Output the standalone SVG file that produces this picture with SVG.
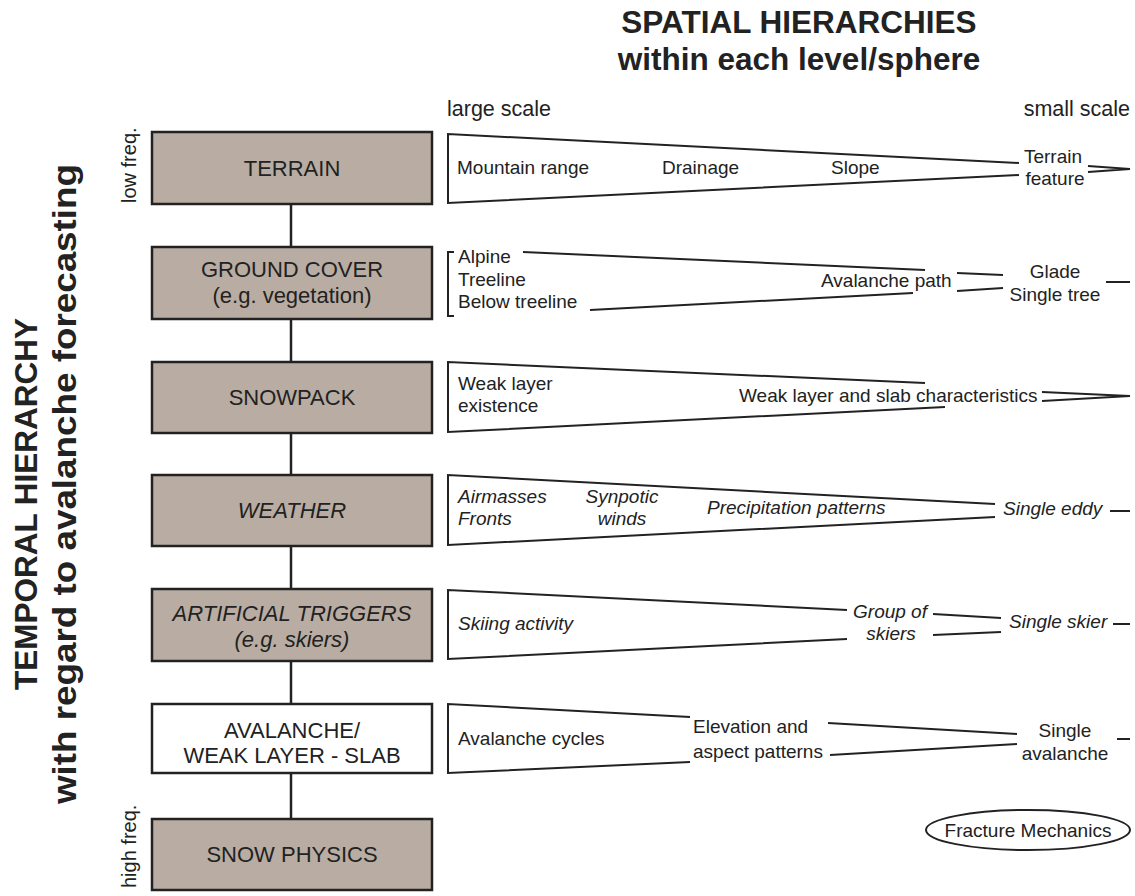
<svg xmlns="http://www.w3.org/2000/svg" width="1135" height="896" viewBox="0 0 1135 896">
<style>
text{font-family:"Liberation Sans",Arial,sans-serif;fill:#222}
.box{fill:#b9ada3;stroke:#222;stroke-width:2.5}
.boxw{fill:#fff;stroke:#222;stroke-width:2.5}
.bt{font-size:22px;text-anchor:middle}
.it{font-style:italic}
.w{fill:none;stroke:#222;stroke-width:2}
.wt{font-size:19px}
.c{text-anchor:middle}
.sc{font-size:21.5px}
.ti{font-size:31.5px;font-weight:bold}
.fq{font-size:20px}
.con{stroke:#222;stroke-width:2.5}
</style>
<rect width="1135" height="896" fill="#fff"/>

<g id="titles">
<text class="ti" x="799" y="33" text-anchor="middle">SPATIAL HIERARCHIES</text>
<text class="ti" x="799" y="70" text-anchor="middle">within each level/sphere</text>
<text class="ti" transform="translate(37,504) rotate(-90)" text-anchor="middle">TEMPORAL HIERARCHY</text>
<text class="ti" transform="translate(76,484) rotate(-90)" text-anchor="middle" style="font-size:33px" textLength="640" lengthAdjust="spacingAndGlyphs">with regard to avalanche forecasting</text>
<text class="fq" transform="translate(136,203) rotate(-90)">low freq.</text>
<text class="fq" transform="translate(136,888) rotate(-90)">high freq.</text>
<text class="sc" x="447" y="116">large scale</text>
<text class="sc" x="1130" y="116" text-anchor="end">small scale</text>
</g>

<g id="connectors">
<line class="con" x1="291" y1="204" x2="291" y2="247"/>
<line class="con" x1="291" y1="319" x2="291" y2="362"/>
<line class="con" x1="291" y1="433" x2="291" y2="475"/>
<line class="con" x1="291" y1="546" x2="291" y2="589"/>
<line class="con" x1="291" y1="661" x2="291" y2="704"/>
<line class="con" x1="291" y1="773" x2="291" y2="819"/>
</g>

<g id="terrain">
<rect class="box" x="152" y="132" width="280" height="72"/>
<text class="bt" x="292" y="176">TERRAIN</text>
</g>
<g id="ground-cover">
<rect class="box" x="152" y="247" width="280" height="72"/>
<text class="bt" x="292" y="277">GROUND COVER</text>
<text class="bt" x="292" y="303">(e.g. vegetation)</text>
</g>
<g id="snowpack">
<rect class="box" x="152" y="362" width="280" height="71"/>
<text class="bt" x="292" y="405">SNOWPACK</text>
</g>
<g id="weather">
<rect class="box" x="152" y="475" width="280" height="71"/>
<text class="bt it" x="292" y="518">WEATHER</text>
</g>
<g id="artificial-triggers">
<rect class="box" x="152" y="589" width="280" height="72"/>
<text class="bt it" x="292" y="621">ARTIFICIAL TRIGGERS</text>
<text class="bt it" x="292" y="647">(e.g. skiers)</text>
</g>
<g id="avalanche">
<rect class="boxw" x="152" y="704" width="280" height="69"/>
<text class="bt" x="292" y="738">AVALANCHE/</text>
<text class="bt" x="292" y="763">WEAK LAYER - SLAB</text>
</g>
<g id="snow-physics">
<rect class="box" x="152" y="819" width="280" height="71"/>
<text class="bt" x="292" y="862">SNOW PHYSICS</text>
</g>

<g id="spatial-terrain">
<path class="w" d="M1019,163 L448,134 L448,203 L1019,175"/>
<path class="w" d="M1088,166 L1130,169 L1088,172"/>
<text class="wt" x="457" y="174">Mountain range</text>
<text class="wt" x="662" y="174">Drainage</text>
<text class="wt" x="831" y="174">Slope</text>
<text class="wt c" x="1053" y="163">Terrain</text>
<text class="wt c" x="1055" y="185">feature</text>
</g>

<g id="spatial-ground-cover">
<path class="w" d="M454,252 L448,252 L448,316 L454,316"/>
<line class="w" x1="523" y1="252" x2="925" y2="270"/>
<line class="w" x1="590" y1="310" x2="913" y2="293"/>
<line class="w" x1="957" y1="273" x2="1003" y2="275"/>
<line class="w" x1="957" y1="291" x2="1003" y2="288"/>
<line class="w" x1="1106" y1="282" x2="1130" y2="282"/>
<text class="wt" x="458" y="263">Alpine</text>
<text class="wt" x="458" y="286">Treeline</text>
<text class="wt" x="458" y="308">Below treeline</text>
<text class="wt" x="821" y="287">Avalanche path</text>
<text class="wt c" x="1055" y="278">Glade</text>
<text class="wt c" x="1055" y="301">Single tree</text>
</g>

<g id="spatial-snowpack">
<path class="w" d="M925,383 L448,362 L448,432 L945,407"/>
<path class="w" d="M1042,392 L1130,396 L1042,401"/>
<text class="wt" x="458" y="390">Weak layer</text>
<text class="wt" x="458" y="412">existence</text>
<text class="wt" x="739" y="402">Weak layer and slab characteristics</text>
</g>

<g id="spatial-weather">
<path class="w" d="M995,504 L448,475 L448,545 L995,517"/>
<line class="w" x1="1110" y1="511" x2="1130" y2="511"/>
<text class="wt it" x="458" y="503">Airmasses</text>
<text class="wt it" x="458" y="525">Fronts</text>
<text class="wt it c" x="622" y="503">Synpotic</text>
<text class="wt it c" x="622" y="525">winds</text>
<text class="wt it" x="707" y="514">Precipitation patterns</text>
<text class="wt it" x="1003" y="515">Single eddy</text>
</g>

<g id="spatial-artificial-triggers">
<path class="w" d="M847,610 L448,590 L448,659 L847,639"/>
<line class="w" x1="933" y1="614" x2="1001" y2="618"/>
<line class="w" x1="933" y1="635" x2="1001" y2="632"/>
<line class="w" x1="1113" y1="624" x2="1130" y2="624"/>
<text class="wt it" x="458" y="630">Skiing activity</text>
<text class="wt it c" x="890" y="618">Group of</text>
<text class="wt it c" x="891" y="640">skiers</text>
<text class="wt it" x="1009" y="628">Single skier</text>
</g>

<g id="spatial-avalanche">
<path class="w" d="M690,717 L448,704 L448,773 L690,762"/>
<line class="w" x1="828" y1="723" x2="1017" y2="734"/>
<line class="w" x1="830" y1="755" x2="1017" y2="744"/>
<line class="w" x1="1117" y1="739" x2="1130" y2="739"/>
<text class="wt" x="458" y="745">Avalanche cycles</text>
<text class="wt" x="693" y="733">Elevation and</text>
<text class="wt" x="693" y="758">aspect patterns</text>
<text class="wt c" x="1065" y="737">Single</text>
<text class="wt c" x="1065" y="760">avalanche</text>
</g>

<g id="fracture-mechanics">
<ellipse cx="1028" cy="830" rx="102" ry="20" fill="#fff" stroke="#222" stroke-width="2"/>
<text class="wt c" x="1028" y="837">Fracture Mechanics</text>
</g>
</svg>
